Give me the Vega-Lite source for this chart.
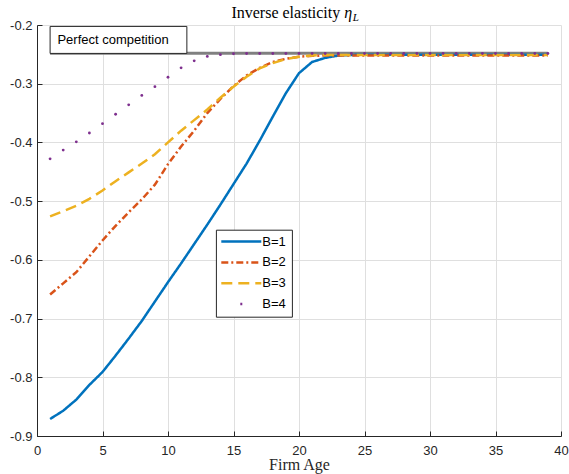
{
  "$schema": "https://vega.github.io/schema/vega-lite/v6.json",
  "width": 524,
  "height": 411,
  "autosize": {"type": "none"},
  "padding": {"left": 37, "top": 25, "right": 8, "bottom": 38},
  "background": "white",
  "datasets": {
    "elasticity": [
      {"age": 1, "B=1": -0.871, "B=2": -0.659, "B=3": -0.526, "B=4": -0.428},
      {"age": 2, "B=1": -0.857, "B=2": -0.640, "B=3": -0.517, "B=4": -0.413},
      {"age": 3, "B=1": -0.838, "B=2": -0.621, "B=3": -0.508, "B=4": -0.399},
      {"age": 4, "B=1": -0.813, "B=2": -0.594, "B=3": -0.496, "B=4": -0.384},
      {"age": 5, "B=1": -0.791, "B=2": -0.567, "B=3": -0.482, "B=4": -0.368},
      {"age": 6, "B=1": -0.763, "B=2": -0.542, "B=3": -0.466, "B=4": -0.352},
      {"age": 7, "B=1": -0.734, "B=2": -0.519, "B=3": -0.451, "B=4": -0.336},
      {"age": 8, "B=1": -0.704, "B=2": -0.497, "B=3": -0.436, "B=4": -0.320},
      {"age": 9, "B=1": -0.671, "B=2": -0.472, "B=3": -0.420, "B=4": -0.305},
      {"age": 10, "B=1": -0.638, "B=2": -0.437, "B=3": -0.400, "B=4": -0.289},
      {"age": 11, "B=1": -0.606, "B=2": -0.407, "B=3": -0.380, "B=4": -0.273},
      {"age": 12, "B=1": -0.573, "B=2": -0.380, "B=3": -0.362, "B=4": -0.261},
      {"age": 13, "B=1": -0.540, "B=2": -0.350, "B=3": -0.344, "B=4": -0.2535},
      {"age": 14, "B=1": -0.506, "B=2": -0.326, "B=3": -0.324, "B=4": -0.2505},
      {"age": 15, "B=1": -0.471, "B=2": -0.304, "B=3": -0.305, "B=4": -0.249},
      {"age": 16, "B=1": -0.436, "B=2": -0.286, "B=3": -0.288, "B=4": -0.2485},
      {"age": 17, "B=1": -0.397, "B=2": -0.273, "B=3": -0.274, "B=4": -0.2485},
      {"age": 18, "B=1": -0.356, "B=2": -0.263, "B=3": -0.265, "B=4": -0.2485},
      {"age": 19, "B=1": -0.316, "B=2": -0.2575, "B=3": -0.258, "B=4": -0.2485},
      {"age": 20, "B=1": -0.282, "B=2": -0.254, "B=3": -0.254, "B=4": -0.2485},
      {"age": 21, "B=1": -0.263, "B=2": -0.2525, "B=3": -0.252, "B=4": -0.2485},
      {"age": 22, "B=1": -0.256, "B=2": -0.252, "B=3": -0.251, "B=4": -0.2485},
      {"age": 23, "B=1": -0.252, "B=2": -0.252, "B=3": -0.251, "B=4": -0.2485},
      {"age": 24, "B=1": -0.251, "B=2": -0.252, "B=3": -0.251, "B=4": -0.2485},
      {"age": 25, "B=1": -0.2505, "B=2": -0.252, "B=3": -0.251, "B=4": -0.2485},
      {"age": 26, "B=1": -0.2505, "B=2": -0.252, "B=3": -0.251, "B=4": -0.2485},
      {"age": 27, "B=1": -0.2505, "B=2": -0.252, "B=3": -0.251, "B=4": -0.2485},
      {"age": 28, "B=1": -0.2505, "B=2": -0.252, "B=3": -0.251, "B=4": -0.2485},
      {"age": 29, "B=1": -0.2505, "B=2": -0.252, "B=3": -0.251, "B=4": -0.2485},
      {"age": 30, "B=1": -0.2505, "B=2": -0.252, "B=3": -0.251, "B=4": -0.2485},
      {"age": 31, "B=1": -0.2505, "B=2": -0.252, "B=3": -0.251, "B=4": -0.2485},
      {"age": 32, "B=1": -0.2505, "B=2": -0.252, "B=3": -0.251, "B=4": -0.2485},
      {"age": 33, "B=1": -0.2505, "B=2": -0.252, "B=3": -0.251, "B=4": -0.2485},
      {"age": 34, "B=1": -0.2505, "B=2": -0.252, "B=3": -0.251, "B=4": -0.2485},
      {"age": 35, "B=1": -0.2505, "B=2": -0.252, "B=3": -0.251, "B=4": -0.2485},
      {"age": 36, "B=1": -0.2505, "B=2": -0.252, "B=3": -0.251, "B=4": -0.2485},
      {"age": 37, "B=1": -0.2505, "B=2": -0.252, "B=3": -0.251, "B=4": -0.2485},
      {"age": 38, "B=1": -0.2505, "B=2": -0.252, "B=3": -0.251, "B=4": -0.2485},
      {"age": 39, "B=1": -0.2505, "B=2": -0.252, "B=3": -0.251, "B=4": -0.2485}
    ],
    "competition": [
      {"age": 1, "eta": -0.248},
      {"age": 39, "eta": -0.248}
    ]
  },
  "config": {
    "view": {"stroke": null},
    "axis": {
      "domainColor": "#262626",
      "domainWidth": 1,
      "tickColor": "#262626",
      "tickSize": -5,
      "gridColor": "#dfdfdf",
      "gridWidth": 1,
      "labelFont": "Liberation Sans",
      "labelFontSize": 13,
      "labelColor": "#262626",
      "titleFont": "Liberation Serif",
      "titleFontSize": 16,
      "titleFontWeight": "normal",
      "titleColor": "#262626"
    },
    "legend": {
      "labelFont": "Liberation Sans",
      "labelFontSize": 13,
      "labelColor": "black",
      "symbolStrokeWidth": 2.5,
      "strokeColor": "#262626",
      "fillColor": "white",
      "padding": 5.4,
      "rowPadding": 6.8,
      "symbolOpacity": 1
    }
  },
  "layer": [
    {
      "data": {"name": "competition"},
      "mark": {"type": "line", "color": "#808080", "strokeWidth": 3},
      "encoding": {
        "x": {
          "field": "age",
          "type": "quantitative",
          "scale": {"domain": [0, 40], "nice": false, "zero": false},
          "axis": {
            "values": [0, 5, 10, 15, 20, 25, 30, 35, 40],
            "title": "Firm Age",
            "labelPadding": 13,
            "titleBaseline": "alphabetic",
            "titlePadding": 12,
            "labelFlush": false
          }
        },
        "y": {
          "field": "eta",
          "type": "quantitative",
          "scale": {"domain": [-0.9, -0.2], "nice": false, "zero": false},
          "axis": {
            "values": [-0.9, -0.8, -0.7, -0.6, -0.5, -0.4, -0.3, -0.2],
            "labelExpr": "replace(format(datum.value, '.1f'), '−', '-')",
            "title": null,
            "labelPadding": 10,
            "labelFlush": false
          }
        }
      }
    },
    {
      "data": {"values": [{}]},
      "mark": {"type": "rect", "fill": "white", "stroke": "#262626", "strokeWidth": 1},
      "encoding": {
        "x": {"datum": 1},
        "x2": {"datum": 11.44},
        "y": {"datum": -0.2024},
        "y2": {"datum": -0.2484}
      }
    },
    {
      "data": {"values": [{}]},
      "mark": {"type": "text", "text": "Perfect competition", "font": "Liberation Sans", "fontSize": 13, "align": "left", "baseline": "middle", "color": "black"},
      "encoding": {
        "x": {"datum": 1.56},
        "y": {"datum": -0.2254}
      }
    },
    {
      "data": {"name": "elasticity"},
      "transform": [
        {"fold": ["B=1", "B=2", "B=3", "B=4"], "as": ["B", "eta"]},
        {"filter": "datum.B !== 'B=4'"}
      ],
      "mark": {"type": "line", "strokeWidth": 2.5},
      "encoding": {
        "x": {"field": "age", "type": "quantitative"},
        "y": {"field": "eta", "type": "quantitative"},
        "color": {
          "field": "B",
          "type": "nominal",
          "scale": {"domain": ["B=1", "B=2", "B=3", "B=4"], "range": ["#0072BD", "#D95319", "#EDB120", "#7E2F8E"]},
          "legend": {
            "title": null, "orient": "none", "legendX": 178.9, "legendY": 204.7,
            "symbolType": "M-4,0H4", "symbolSize": 100, "symbolOffset": 13.5, "labelOffset": 14.5
          }
        },
        "strokeDash": {
          "field": "B",
          "type": "nominal",
          "scale": {"domain": ["B=1", "B=2", "B=3", "B=4"], "range": [[1, 0], [7, 3, 2, 3], [11, 6], [0, 19, 2, 100]]},
          "legend": {
            "title": null, "orient": "none", "legendX": 178.9, "legendY": 204.7,
            "symbolType": "M-4,0H4", "symbolSize": 100, "symbolOffset": 13.5, "labelOffset": 14.5
          }
        }
      }
    },
    {
      "data": {"name": "elasticity"},
      "transform": [
        {"fold": ["B=1", "B=2", "B=3", "B=4"], "as": ["B", "eta"]},
        {"filter": "datum.B === 'B=4'"}
      ],
      "mark": {"type": "point", "filled": true, "size": 8, "opacity": 1},
      "encoding": {
        "x": {"field": "age", "type": "quantitative"},
        "y": {"field": "eta", "type": "quantitative"},
        "color": {"field": "B", "type": "nominal"}
      }
    },
    {
      "data": {"values": [{}]},
      "mark": {"type": "text", "text": "Inverse elasticity", "font": "Liberation Serif", "fontSize": 16, "align": "right", "baseline": "alphabetic", "dy": -7.5, "color": "black"},
      "encoding": {"x": {"datum": 23.15}, "y": {"datum": -0.2}}
    },
    {
      "data": {"values": [{}]},
      "mark": {"type": "text", "text": "η", "font": "Liberation Serif", "fontStyle": "italic", "fontSize": 16, "align": "left", "baseline": "alphabetic", "dy": -7.5, "color": "black"},
      "encoding": {"x": {"datum": 23.45}, "y": {"datum": -0.2}}
    },
    {
      "data": {"values": [{}]},
      "mark": {"type": "text", "text": "L", "font": "Liberation Serif", "fontStyle": "italic", "fontSize": 11, "align": "left", "baseline": "alphabetic", "dy": -4.5, "color": "black"},
      "encoding": {"x": {"datum": 24.1}, "y": {"datum": -0.2}}
    }
  ]
}
